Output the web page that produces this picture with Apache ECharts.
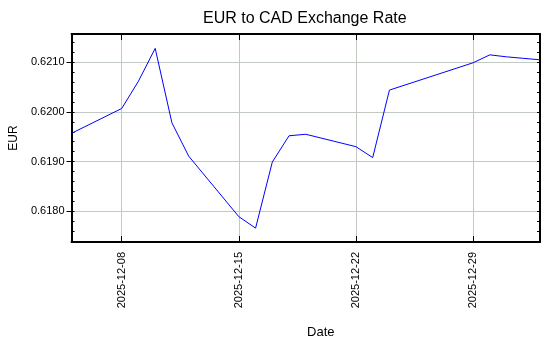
<!DOCTYPE html>
<html>
<head>
<meta charset="utf-8">
<script src="https://cdn.jsdelivr.net/npm/echarts@6/dist/echarts.min.js"></script>
<style>
  html, body { margin: 0; padding: 0; background: #ffffff; }
  #chart { width: 550px; height: 350px; }
</style>
</head>
<body>
<div id="chart"></div>
<script>
// Daily EUR→CAD quotes (trading days only)
const dates = [
  '2025-12-05', '2025-12-08', '2025-12-09', '2025-12-10', '2025-12-11', '2025-12-12',
  '2025-12-15', '2025-12-16', '2025-12-17', '2025-12-18', '2025-12-19',
  '2025-12-22', '2025-12-23', '2025-12-24',
  '2025-12-29', '2025-12-30', '2025-12-31', '2026-01-01', '2026-01-02'
];
const rates = [
  0.61957, 0.62007, 0.62062, 0.62128, 0.61978, 0.61911,
  0.61789, 0.61766, 0.61899, 0.61952, 0.61955,
  0.61930, 0.61908, 0.62044,
  0.62099, 0.62115, 0.62111, 0.62108, 0.62105
];

// Axis ranges and tick positions
const dateRange = ['2025-12-05', '2026-01-02'];
const dateTicks = ['2025-12-08', '2025-12-15', '2025-12-22', '2025-12-29'];
const rateRange = [0.61738, 0.62157];
const rateTicks = [0.6180, 0.6190, 0.6200, 0.6210];
const rateMinorTicks = [
  0.6174, 0.6176, 0.6178, 0.6180, 0.6182, 0.6184, 0.6186, 0.6188, 0.6190, 0.6192, 0.6194,
  0.6196, 0.6198, 0.6200, 0.6202, 0.6204, 0.6206, 0.6208, 0.6210, 0.6212, 0.6214
];

// Dates are placed on a numeric axis as local-midnight timestamps
const toTime = s => new Date(s + 'T00:00:00').getTime();
const dateTickTimes = dateTicks.map(toTime);
const pad2 = n => (n < 10 ? '0' : '') + n;
const fmtDate = t => {
  const d = new Date(t);
  return d.getFullYear() + '-' + pad2(d.getMonth() + 1) + '-' + pad2(d.getDate());
};

const FONT = 'Liberation Sans, Arial, sans-serif';
const AXIS_LINE = { show: true, onZero: false, lineStyle: { color: '#000000', width: 2 } };
const GRID_LINE = { show: true, lineStyle: { color: '#c2c8c2', width: 1, type: 'solid' } };

const chart = echarts.init(document.getElementById('chart'), null, { renderer: 'canvas' });

chart.setOption({
  animation: false,
  backgroundColor: '#ffffff',
  title: {
    text: 'EUR to CAD Exchange Rate',
    left: 203,
    top: 11,
    padding: 0,
    textStyle: { fontFamily: FONT, fontSize: 16, fontWeight: 'normal', color: '#000000' }
  },
  grid: { left: 69, right: 10, top: 34, bottom: 108 },
  xAxis: [
    {
      type: 'value',
      position: 'bottom',
      min: toTime(dateRange[0]),
      max: toTime(dateRange[1]),
      axisLine: AXIS_LINE,
      axisTick: { show: true, inside: true, length: 6, customValues: dateTickTimes,
                  lineStyle: { color: '#000000', width: 1 } },
      axisLabel: {
        customValues: dateTickTimes,
        rotate: 90,
        margin: 10,
        fontFamily: FONT,
        fontSize: 11,
        color: '#000000',
        formatter: v => fmtDate(v)
      },
      splitLine: GRID_LINE,
      name: 'Date',
      nameLocation: 'middle',
      nameGap: 84,
      nameTextStyle: { fontFamily: FONT, fontSize: 13, color: '#000000', padding: [0, 0, 0, 30] }
    },
    {
      type: 'value',
      position: 'top',
      min: toTime(dateRange[0]),
      max: toTime(dateRange[1]),
      axisLine: AXIS_LINE,
      axisTick: { show: true, inside: true, length: 6, customValues: dateTickTimes,
                  lineStyle: { color: '#000000', width: 1 } },
      axisLabel: { show: false },
      splitLine: { show: false }
    }
  ],
  yAxis: [
    {
      type: 'value',
      position: 'left',
      min: rateRange[0],
      max: rateRange[1],
      axisLine: AXIS_LINE,
      axisTick: { show: true, inside: false, length: 5, customValues: rateTicks,
                  lineStyle: { color: '#000000', width: 1 } },
      axisLabel: {
        customValues: rateTicks,
        margin: 7,
        fontFamily: FONT,
        fontSize: 11,
        color: '#000000',
        formatter: v => v.toFixed(4)
      },
      splitLine: GRID_LINE,
      name: 'EUR',
      nameLocation: 'middle',
      nameGap: 40,
      nameTextStyle: { fontFamily: FONT, fontSize: 12, color: '#000000' }
    },
    {
      type: 'value',
      position: 'left',
      min: rateRange[0],
      max: rateRange[1],
      axisLine: { show: false, onZero: false },
      axisTick: { show: true, inside: true, length: 3, customValues: rateMinorTicks,
                  lineStyle: { color: '#000000', width: 1 } },
      axisLabel: { show: false },
      splitLine: { show: false }
    },
    {
      type: 'value',
      position: 'right',
      min: rateRange[0],
      max: rateRange[1],
      axisLine: AXIS_LINE,
      axisTick: { show: true, inside: true, length: 3, customValues: rateMinorTicks,
                  lineStyle: { color: '#000000', width: 1 } },
      axisLabel: { show: false },
      splitLine: { show: false }
    }
  ],
  series: [
    {
      type: 'line',
      xAxisIndex: 0,
      yAxisIndex: 0,
      data: dates.map((d, i) => [toTime(d), rates[i]]),
      symbol: 'none',
      lineStyle: { color: '#0000ff', width: 1 },
      clip: true
    }
  ]
});
</script>
</body>
</html>
